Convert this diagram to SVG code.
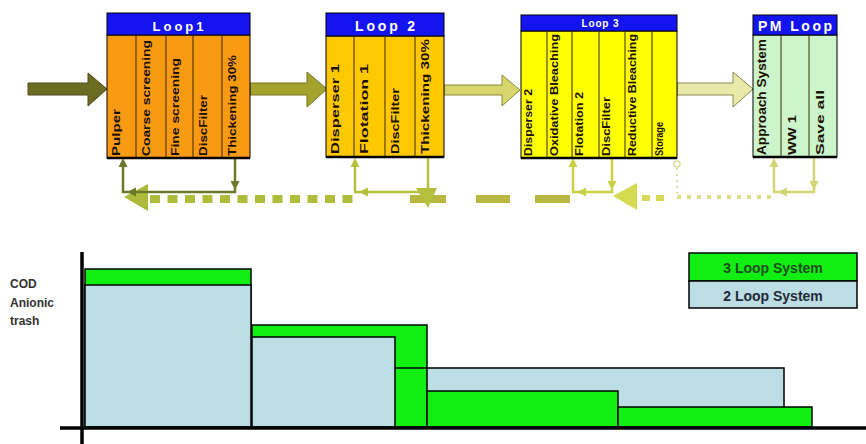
<svg xmlns="http://www.w3.org/2000/svg" width="866" height="444" viewBox="0 0 866 444">
<style>
.hdr{fill:#1414f0;stroke:#000;stroke-width:1}
.ht{font-family:"Liberation Sans",Arial,sans-serif;font-weight:bold;fill:#fff;text-anchor:middle}
.ct{font-family:"Liberation Sans",Arial,sans-serif;font-weight:bold;fill:#1a1000}
.div{stroke:#3a2a00;stroke-width:1}
.bot{stroke:#000;stroke-width:2.5}
.lbl{font-family:"Liberation Sans",Arial,sans-serif;font-weight:bold;font-size:12px;fill:#333}
.leg{font-family:"Liberation Sans",Arial,sans-serif;font-weight:bold;font-size:14px;text-anchor:middle}
.g{fill:#11ee11;stroke:#000;stroke-width:1.5}
.b{fill:#bcdde3;stroke:#000;stroke-width:1.5}
</style>
<rect width="866" height="444" fill="#fff"/>

<g id="connectors">
  <!-- forward arrows -->
  <polygon points="28,83 88,83 88,73 107,89 88,106 88,95 28,95" fill="#6b6b22" stroke="#4a4a12" stroke-width="1"/>
  <polygon points="250,83 307,83 307,72 327,89 307,107 307,95 250,95" fill="#a3a32e" stroke="#76761e" stroke-width="1"/>
  <polygon points="444,85 502,85 502,75 520,90 502,106 502,95 444,95" fill="#d6d66c" stroke="#8a8a34" stroke-width="1"/>
  <polygon points="677,83 733,83 733,72 753,89 733,107 733,95 677,95" fill="#e9e9aa" stroke="#8a8a4e" stroke-width="1"/>

  <!-- big return flow -->
  <line x1="150" y1="199" x2="355" y2="199" stroke="#b0bd3c" stroke-width="8" stroke-dasharray="10 7.5"/>
  <polygon points="124,197 148,184 148,211" fill="#aebb3a"/>
  <line x1="410" y1="199" x2="446" y2="199" stroke="#b8b840" stroke-width="8"/>
  <line x1="476" y1="199" x2="510" y2="199" stroke="#b8b840" stroke-width="8"/>
  <line x1="535" y1="199" x2="570" y2="199" stroke="#b8b840" stroke-width="8"/>
  <polygon points="613,196 637,183 637,210" fill="#d6da50"/>
  <line x1="642" y1="198" x2="670" y2="198" stroke="#d6da58" stroke-width="6" stroke-dasharray="8 6"/>
  <line x1="677" y1="197" x2="772" y2="197" stroke="#dcdf8a" stroke-width="4" stroke-dasharray="4 6"/>
  <line x1="677" y1="168" x2="677" y2="195" stroke="#dcdf9a" stroke-width="2" stroke-dasharray="2 4"/>
  <circle cx="677" cy="164" r="3" fill="none" stroke="#dcdf9a" stroke-width="1.5"/>

  <!-- Loop1 feedback -->
  <path d="M235,158 V192 H123 V164" fill="none" stroke="#6b7a2a" stroke-width="2.5"/>
  <polygon points="123,158 118.5,167 127.5,167" fill="#6b7a2a"/>
  <polygon points="235,190 230.5,181 239.5,181" fill="#6b7a2a"/>
  <polygon points="127,192 136,187.5 136,196.5" fill="#6b7a2a"/>

  <!-- Loop2 feedback -->
  <path d="M428,157 V192 H355 V164" fill="none" stroke="#b6c03e" stroke-width="2.5"/>
  <polygon points="355,158 350.5,167 359.5,167" fill="#b6c03e"/>
  <polygon points="359,192 368,187.5 368,196.5" fill="#b6c03e"/>
  <polygon points="428,208 416,188 437,188" fill="#b6c03e"/>

  <!-- Loop3 feedback -->
  <path d="M612,158 V192 H573 V164" fill="none" stroke="#ccd044" stroke-width="2.5"/>
  <polygon points="573,158 568.5,167 577.5,167" fill="#ccd044"/>
  <polygon points="612,190 607.5,181 616.5,181" fill="#ccd044"/>
  <polygon points="577,192 586,187.5 586,196.5" fill="#ccd044"/>

  <!-- PM feedback -->
  <path d="M814,157 V192 H774 V164" fill="none" stroke="#d2d672" stroke-width="2.5"/>
  <polygon points="774,158 769.5,167 778.5,167" fill="#d2d672"/>
  <polygon points="814,190 809.5,181 818.5,181" fill="#d2d672"/>
  <polygon points="778,192 787,187.5 787,196.5" fill="#d2d672"/>
</g>

<g id="loop1">
  <rect x="107" y="35" width="143" height="123" fill="#f89a12" stroke="#000" stroke-width="1"/>
  <rect class="hdr" x="107" y="13" width="143" height="22"/>
  <text class="ht" x="178" y="31" font-size="13" textLength="51" lengthAdjust="spacing">Loop1</text>
  <line class="div" x1="136" y1="35" x2="136" y2="158"/>
  <line class="div" x1="166" y1="35" x2="166" y2="158"/>
  <line class="div" x1="193" y1="35" x2="193" y2="158"/>
  <line class="div" x1="222" y1="35" x2="222" y2="158"/>
  <line class="bot" x1="107" y1="158" x2="250" y2="158"/>
  <text class="ct" font-size="11" transform="translate(120,156) rotate(-90)" textLength="47" lengthAdjust="spacingAndGlyphs">Pulper</text>
  <text class="ct" font-size="11" transform="translate(150,156) rotate(-90)" textLength="116" lengthAdjust="spacingAndGlyphs">Coarse screening</text>
  <text class="ct" font-size="11" transform="translate(179,156) rotate(-90)" textLength="98" lengthAdjust="spacingAndGlyphs">Fine screening</text>
  <text class="ct" font-size="11" transform="translate(207,156) rotate(-90)" textLength="61" lengthAdjust="spacingAndGlyphs">DiscFilter</text>
  <text class="ct" font-size="11" transform="translate(236,156) rotate(-90)" textLength="101" lengthAdjust="spacingAndGlyphs">Thickening 30%</text>
</g>

<g id="loop2">
  <rect x="326" y="36" width="118" height="121" fill="#ffc800" stroke="#000" stroke-width="1"/>
  <rect class="hdr" x="326" y="13" width="118" height="23"/>
  <text class="ht" x="385" y="31" font-size="14" textLength="60" lengthAdjust="spacing">Loop 2</text>
  <line class="div" x1="354" y1="36" x2="354" y2="157"/>
  <line class="div" x1="385" y1="36" x2="385" y2="157"/>
  <line class="div" x1="415" y1="36" x2="415" y2="157"/>
  <line class="bot" x1="326" y1="157" x2="444" y2="157"/>
  <text class="ct" font-size="11" transform="translate(339,154) rotate(-90)" textLength="90" lengthAdjust="spacingAndGlyphs">Disperser 1</text>
  <text class="ct" font-size="11" transform="translate(368,154) rotate(-90)" textLength="90" lengthAdjust="spacingAndGlyphs">Flotation 1</text>
  <text class="ct" font-size="11" transform="translate(399,154) rotate(-90)" textLength="66" lengthAdjust="spacingAndGlyphs">DiscFilter</text>
  <text class="ct" font-size="11" transform="translate(429,154) rotate(-90)" textLength="115" lengthAdjust="spacingAndGlyphs">Thickening 30%</text>
</g>

<g id="loop3">
  <rect x="521" y="31" width="156" height="127" fill="#ffff00" stroke="#000" stroke-width="1"/>
  <rect class="hdr" x="521" y="15" width="156" height="16"/>
  <text class="ht" x="600" y="27" font-size="10" textLength="37" lengthAdjust="spacing">Loop 3</text>
  <line class="div" x1="547" y1="31" x2="547" y2="158"/>
  <line class="div" x1="572" y1="31" x2="572" y2="158"/>
  <line class="div" x1="599" y1="31" x2="599" y2="158"/>
  <line class="div" x1="625" y1="31" x2="625" y2="158"/>
  <line class="div" x1="652" y1="31" x2="652" y2="158"/>
  <text class="ct" font-size="10" transform="translate(532,156) rotate(-90)" textLength="67" lengthAdjust="spacingAndGlyphs">Disperser 2</text>
  <text class="ct" font-size="10" transform="translate(558,156) rotate(-90)" textLength="122" lengthAdjust="spacingAndGlyphs">Oxidative Bleaching</text>
  <text class="ct" font-size="10" transform="translate(583,156) rotate(-90)" textLength="64" lengthAdjust="spacingAndGlyphs">Flotation 2</text>
  <text class="ct" font-size="10" transform="translate(610,156) rotate(-90)" textLength="59" lengthAdjust="spacingAndGlyphs">DiscFilter</text>
  <text class="ct" font-size="10" transform="translate(636,156) rotate(-90)" textLength="122" lengthAdjust="spacingAndGlyphs">Reductive Bleaching</text>
  <text class="ct" font-size="10" transform="translate(663,156) rotate(-90)" textLength="34" lengthAdjust="spacingAndGlyphs">Storage</text>
  <line class="bot" x1="521" y1="158" x2="677" y2="158"/>
</g>

<g id="pmloop">
  <rect x="753" y="35" width="84" height="122" fill="#ccf5cc" stroke="#000" stroke-width="1"/>
  <rect class="hdr" x="753" y="15" width="84" height="20"/>
  <text class="ht" x="795" y="31" font-size="14" textLength="74" lengthAdjust="spacing">PM Loop</text>
  <line class="div" x1="781" y1="35" x2="781" y2="157"/>
  <line class="div" x1="809" y1="35" x2="809" y2="157"/>
  <line class="bot" x1="753" y1="157" x2="837" y2="157"/>
  <text class="ct" font-size="12" transform="translate(766,155) rotate(-90)" textLength="116" lengthAdjust="spacingAndGlyphs">Approach System</text>
  <text class="ct" font-size="11" transform="translate(796,155) rotate(-90)" textLength="40" lengthAdjust="spacingAndGlyphs">WW 1</text>
  <text class="ct" font-size="11" transform="translate(824,155) rotate(-90)" textLength="65" lengthAdjust="spacingAndGlyphs">Save all</text>
</g>

<g id="chart">
  <rect class="g" x="85" y="269" width="166" height="158"/>
  <rect class="b" x="85" y="285" width="166" height="142"/>
  <rect class="b" x="395" y="368" width="389" height="59"/>
  <rect class="g" x="252" y="325" width="175" height="102"/>
  <rect class="b" x="252" y="337" width="143" height="90"/>
  <line x1="395" y1="368" x2="427" y2="368" stroke="#000" stroke-width="1.5"/>
  <rect class="g" x="427" y="391" width="191" height="36"/>
  <rect class="g" x="618" y="407" width="194" height="20"/>
  <line x1="82" y1="252" x2="82" y2="444" stroke="#000" stroke-width="3.5"/>
  <line x1="60" y1="428" x2="866" y2="428" stroke="#000" stroke-width="3.5"/>
  <text class="lbl" x="10" y="288">COD</text>
  <text class="lbl" x="10" y="307">Anionic</text>
  <text class="lbl" x="10" y="325">trash</text>
</g>

<g id="legend">
  <rect x="689" y="253" width="168" height="28" fill="#11ee11" stroke="#000" stroke-width="1.5"/>
  <rect x="689" y="281" width="168" height="27" fill="#bcdde3" stroke="#000" stroke-width="1.5"/>
  <text class="leg" x="773" y="273" fill="#1d4d1d">3 Loop System</text>
  <text class="leg" x="773" y="301" fill="#1e2a36">2 Loop System</text>
</g>
</svg>
